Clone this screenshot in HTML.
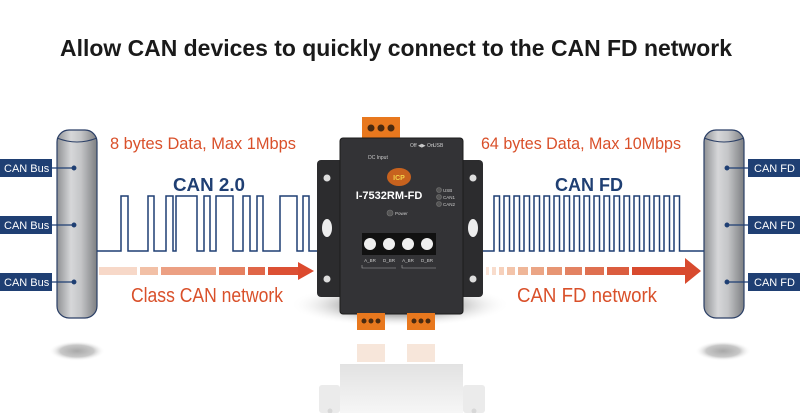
<!DOCTYPE html>
<html><head><meta charset="utf-8"><style>
html,body{margin:0;padding:0;background:#fff;}
svg{display:block;}
text{font-family:"Liberation Sans",sans-serif;}
</style></head><body>
<svg width="800" height="413" viewBox="0 0 800 413" xmlns="http://www.w3.org/2000/svg">
<defs>
<linearGradient id="cyl" x1="0" x2="1" y1="0" y2="0">
<stop offset="0" stop-color="#8f9194"/><stop offset="0.35" stop-color="#d6d7d9"/><stop offset="0.6" stop-color="#c4c5c7"/><stop offset="1" stop-color="#7d7f82"/>
</linearGradient>
<radialGradient id="shad" cx="0.5" cy="0.5" r="0.5">
<stop offset="0" stop-color="#a8a8a8"/><stop offset="0.6" stop-color="#c8c8c8"/><stop offset="1" stop-color="#fff" stop-opacity="0"/>
</radialGradient>
<radialGradient id="devshad" cx="0.5" cy="0.5" r="0.5">
<stop offset="0.5" stop-color="#888" stop-opacity="0.6"/><stop offset="1" stop-color="#fff" stop-opacity="0"/>
</radialGradient>
<linearGradient id="refl" x1="0" x2="0" y1="0" y2="1">
<stop offset="0" stop-color="#e2e2e2"/><stop offset="1" stop-color="#f6f6f6"/>
</linearGradient>
</defs>

<text x="396" y="56" text-anchor="middle" font-size="23" font-weight="bold" fill="#1a1a1a" textLength="672" lengthAdjust="spacingAndGlyphs">Allow CAN devices to quickly connect to the CAN FD network</text>

<!-- left cylinder -->
<ellipse cx="77" cy="351" rx="28" ry="10" fill="url(#shad)"/>
<rect x="57" y="130" width="40" height="188" rx="12" fill="url(#cyl)" stroke="#2b3f66" stroke-width="1.2"/>
<path d="M57 138 Q77 146 97 138" fill="none" stroke="#2b3f66" stroke-width="1"/>
<!-- right cylinder -->
<ellipse cx="723" cy="351" rx="28" ry="10" fill="url(#shad)"/>
<rect x="704" y="130" width="40" height="188" rx="12" fill="url(#cyl)" stroke="#2b3f66" stroke-width="1.2"/>
<path d="M704 138 Q724 146 744 138" fill="none" stroke="#2b3f66" stroke-width="1"/>

<g font-size="11" fill="#fff">
<rect x="0" y="159" width="52" height="18" fill="#1f3f73"/><text x="4" y="172">CAN Bus</text>
<rect x="0" y="216" width="52" height="18" fill="#1f3f73"/><text x="4" y="229">CAN Bus</text>
<rect x="0" y="273" width="52" height="18" fill="#1f3f73"/><text x="4" y="286">CAN Bus</text>
<rect x="748" y="159" width="52" height="18" fill="#1f3f73"/><text x="754" y="172">CAN FD</text>
<rect x="748" y="216" width="52" height="18" fill="#1f3f73"/><text x="754" y="229">CAN FD</text>
<rect x="748" y="273" width="52" height="18" fill="#1f3f73"/><text x="754" y="286">CAN FD</text>
</g>
<g stroke="#1f3f73" stroke-width="1.3" fill="#1f3f73">
<line x1="52" y1="168" x2="74" y2="168"/><circle cx="74" cy="168" r="1.8"/>
<line x1="52" y1="225" x2="74" y2="225"/><circle cx="74" cy="225" r="1.8"/>
<line x1="52" y1="282" x2="74" y2="282"/><circle cx="74" cy="282" r="1.8"/>
<line x1="727" y1="168" x2="748" y2="168"/><circle cx="727" cy="168" r="1.8"/>
<line x1="727" y1="225" x2="748" y2="225"/><circle cx="727" cy="225" r="1.8"/>
<line x1="727" y1="282" x2="748" y2="282"/><circle cx="727" cy="282" r="1.8"/>
</g>

<text x="110" y="149" font-size="17" fill="#d9502a" textLength="186" lengthAdjust="spacingAndGlyphs">8  bytes Data, Max 1Mbps</text>
<text x="173" y="191" font-size="18" font-weight="bold" fill="#1f3f73" textLength="72" lengthAdjust="spacingAndGlyphs">CAN 2.0</text>
<text x="131" y="302" font-size="20" fill="#d9502a" textLength="152" lengthAdjust="spacingAndGlyphs">Class CAN network</text>
<text x="481" y="149" font-size="17" fill="#d9502a" textLength="200" lengthAdjust="spacingAndGlyphs">64 bytes Data, Max 10Mbps</text>
<text x="555" y="191" font-size="18" font-weight="bold" fill="#1f3f73" textLength="68" lengthAdjust="spacingAndGlyphs">CAN FD</text>
<text x="517" y="302" font-size="20" fill="#d9502a" textLength="140" lengthAdjust="spacingAndGlyphs">CAN FD network</text>

<path d="M97 251 H121 V196 H128 V251 H148 V196 H154 V251 H166 V196 H173 V251 H176 V196 H197 V251 H204 V196 H210 V251 H216 V196 H233 V251 H243 V196 H250 V251 H257 V196 H263 V251 H280 V196 H297 V251 H303 V196 H309 V251 H320" fill="none" stroke="#1f3f73" stroke-width="1.5"/>
<path d="M480 251 H494 V196 H499.5 V251 H504 V196 H509.5 V251 H514 V196 H519.5 V251 H524 V196 H529.5 V251 H534 V196 H539.5 V251 H544 V196 H549.5 V251 H554 V196 H559.5 V251 H564 V196 H569.5 V251 H574 V196 H579.5 V251 H584 V196 H589.5 V251 H594 V196 H599.5 V251 H604 V196 H609.5 V251 H614 V196 H619.5 V251 H624 V196 H629.5 V251 H634 V196 H639.5 V251 H644 V196 H649.5 V251 H654 V196 H659.5 V251 H664 V196 H669.5 V251 H674 V196 H679.5 V251 H704" fill="none" stroke="#1f3f73" stroke-width="1.5"/>

<g>
<rect x="99" y="267" width="38" height="8" fill="#f7d8c8"/>
<rect x="140" y="267" width="18" height="8" fill="#f2c0a6"/>
<rect x="161" y="267" width="55" height="8" fill="#eca083"/>
<rect x="219" y="267" width="26" height="8" fill="#e58060"/>
<rect x="248" y="267" width="17" height="8" fill="#e06648"/>
<rect x="268" y="267" width="30" height="8" fill="#dc5034"/>
<polygon points="298,262 314,271 298,280" fill="#dc4a2e"/>
</g>
<g>
<rect x="486" y="267" width="3" height="8" fill="#fbe5d8"/>
<rect x="492" y="267" width="4" height="8" fill="#f8dccc"/>
<rect x="499" y="267" width="5" height="8" fill="#f6d0bb"/>
<rect x="507" y="267" width="8" height="8" fill="#f3c4aa"/>
<rect x="518" y="267" width="10" height="8" fill="#efb698"/>
<rect x="531" y="267" width="13" height="8" fill="#eba585"/>
<rect x="547" y="267" width="15" height="8" fill="#e79573"/>
<rect x="565" y="267" width="17" height="8" fill="#e38262"/>
<rect x="585" y="267" width="19" height="8" fill="#df7050"/>
<rect x="607" y="267" width="22" height="8" fill="#db5d3f"/>
<rect x="632" y="267" width="53" height="8" fill="#d84a2e"/>
<polygon points="685,258 701,271 685,284" fill="#d84a2e"/>
</g>

<ellipse cx="400" cy="305" rx="110" ry="22" fill="url(#devshad)"/>
<rect x="340" y="364" width="123" height="49" fill="url(#refl)"/>
<rect x="319" y="385" width="21" height="28" rx="3" fill="#ebebeb"/>
<rect x="463" y="385" width="22" height="28" rx="3" fill="#ebebeb"/>
<circle cx="330" cy="411" r="2.5" fill="#d8d8d8"/><circle cx="474" cy="411" r="2.5" fill="#d8d8d8"/>
<rect x="357" y="344" width="28" height="18" fill="#f7e6da"/>
<rect x="407" y="344" width="28" height="18" fill="#f7e6da"/>

<rect x="317" y="160" width="166" height="137" rx="4" fill="#2c2c2e"/>
<circle cx="327" cy="178" r="3.5" fill="#ddd"/><circle cx="327" cy="279" r="3.5" fill="#ddd"/>
<circle cx="473" cy="178" r="3.5" fill="#ddd"/><circle cx="473" cy="279" r="3.5" fill="#ddd"/>
<ellipse cx="327" cy="228" rx="5" ry="9" fill="#eee"/><ellipse cx="473" cy="228" rx="5" ry="9" fill="#eee"/>
<rect x="362" y="117" width="38" height="22" fill="#e8781e"/>
<circle cx="371" cy="128" r="3.5" fill="#4a2a10"/><circle cx="381" cy="128" r="3.5" fill="#4a2a10"/><circle cx="391" cy="128" r="3.5" fill="#4a2a10"/>
<rect x="340" y="138" width="123" height="176" rx="3" fill="#333336" stroke="#1c1c1c"/>
<text x="378" y="159" font-size="5" fill="#ccc" text-anchor="middle">DC Input</text>
<text x="410" y="147" font-size="5" fill="#ccc">Off ◀▶ On</text>
<text x="433" y="147" font-size="5" fill="#ccc">USB</text>
<ellipse cx="399" cy="177" rx="12" ry="9" fill="#c7621e"/>
<text x="399" y="180" font-size="7" font-weight="bold" fill="#f2d24a" text-anchor="middle">ICP</text>
<text x="389" y="199" font-size="11" font-weight="bold" fill="#fff" text-anchor="middle" font-family="Liberation Serif,serif">I-7532RM-FD</text>
<g fill="#555" stroke="#777" stroke-width="0.6"><circle cx="439" cy="190" r="2.5"/><circle cx="439" cy="197" r="2.5"/><circle cx="439" cy="204" r="2.5"/><circle cx="390" cy="213" r="3"/></g>
<g font-size="4.5" fill="#ccc"><text x="443" y="192">USB</text><text x="443" y="199">CAN1</text><text x="443" y="206">CAN2</text><text x="395" y="215">Power</text></g>
<rect x="362" y="233" width="74" height="22" fill="#111"/>
<g fill="#eee"><circle cx="370" cy="244" r="6"/><circle cx="389" cy="244" r="6"/><circle cx="408" cy="244" r="6"/><circle cx="427" cy="244" r="6"/></g>
<g font-size="4.5" fill="#ccc" text-anchor="middle"><text x="370" y="262">A_BR</text><text x="389" y="262">D_BR</text><text x="408" y="262">A_BR</text><text x="427" y="262">D_BR</text></g>
<path d="M362 265 v3 h34 M402 265 v3 h34" fill="none" stroke="#aaa" stroke-width="0.6"/>
<rect x="357" y="313" width="28" height="17" fill="#e8781e"/>
<rect x="407" y="313" width="28" height="17" fill="#e8781e"/>
<g fill="#4a2a10"><circle cx="364" cy="321" r="2.5"/><circle cx="371" cy="321" r="2.5"/><circle cx="378" cy="321" r="2.5"/><circle cx="414" cy="321" r="2.5"/><circle cx="421" cy="321" r="2.5"/><circle cx="428" cy="321" r="2.5"/></g>
</svg>
</body></html>
